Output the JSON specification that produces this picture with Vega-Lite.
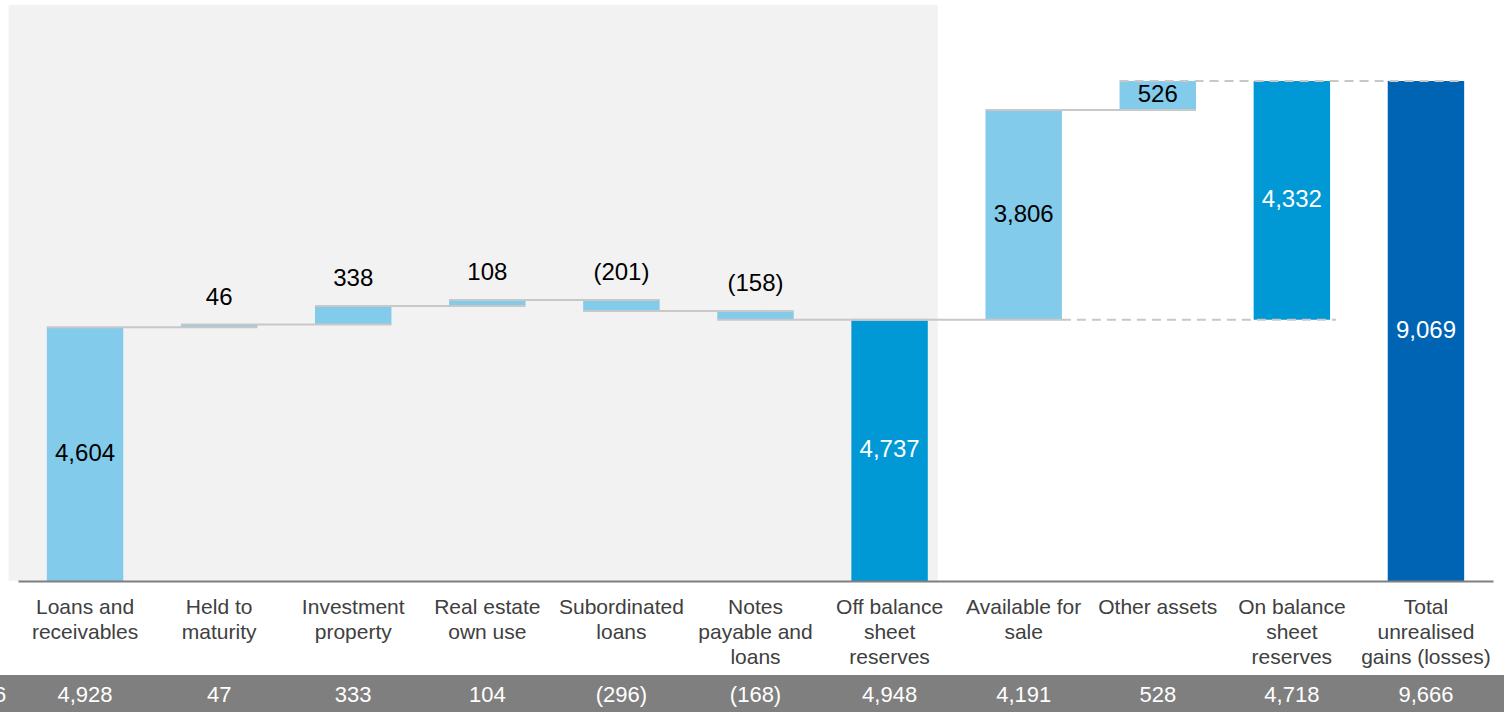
{
  "$schema": "https://vega.github.io/schema/vega-lite/v6.json",
  "width": 1475,
  "height": 576,
  "autosize": {"type": "none"},
  "padding": {"left": 18, "top": 5, "right": 11, "bottom": 131},
  "background": "white",
  "config": {"view": {"stroke": null}, "font": "Liberation Sans"},
  "datasets": {
    "steps": [
      {"category": "Loans and|receivables", "start": 0, "end": 4604, "kind": "change", "labelPos": "inside", "label": "4,604", "prior": "4,928"},
      {"category": "Held to|maturity", "start": 4604, "end": 4650, "kind": "change", "labelPos": "above", "label": "46", "prior": "47"},
      {"category": "Investment|property", "start": 4650, "end": 4988, "kind": "change", "labelPos": "above", "label": "338", "prior": "333"},
      {"category": "Real estate|own use", "start": 4988, "end": 5096, "kind": "change", "labelPos": "above", "label": "108", "prior": "104"},
      {"category": "Subordinated|loans", "start": 5096, "end": 4895, "kind": "change", "labelPos": "above", "label": "(201)", "prior": "(296)"},
      {"category": "Notes|payable and|loans", "start": 4895, "end": 4737, "kind": "change", "labelPos": "above", "label": "(158)", "prior": "(168)"},
      {"category": "Off balance|sheet|reserves", "start": 0, "end": 4737, "kind": "subtotal", "labelPos": "inside", "label": "4,737", "prior": "4,948"},
      {"category": "Available for|sale", "start": 4737, "end": 8543, "kind": "change", "labelPos": "inside", "label": "3,806", "prior": "4,191"},
      {"category": "Other assets", "start": 8543, "end": 9069, "kind": "change", "labelPos": "inside", "label": "526", "prior": "528"},
      {"category": "On balance|sheet|reserves", "start": 4737, "end": 9069, "kind": "subtotal", "labelPos": "inside", "label": "4,332", "prior": "4,718"},
      {"category": "Total|unrealised|gains (losses)", "start": 0, "end": 9069, "kind": "total", "labelPos": "inside", "label": "9,069", "prior": "9,666"}
    ],
    "connectors": [
      {"category": "Loans and|receivables", "to": "Held to|maturity", "level": 4604, "style": "solid"},
      {"category": "Held to|maturity", "to": "Investment|property", "level": 4650, "style": "solid"},
      {"category": "Investment|property", "to": "Real estate|own use", "level": 4988, "style": "solid"},
      {"category": "Real estate|own use", "to": "Subordinated|loans", "level": 5096, "style": "solid"},
      {"category": "Subordinated|loans", "to": "Notes|payable and|loans", "level": 4895, "style": "solid"},
      {"category": "Notes|payable and|loans", "to": "Off balance|sheet|reserves", "level": 4737, "style": "solid"},
      {"category": "Off balance|sheet|reserves", "to": "Available for|sale", "level": 4737, "style": "solid"},
      {"category": "Available for|sale", "to": "Other assets", "level": 8543, "style": "solid"},
      {"category": "Other assets", "to": "Total|unrealised|gains (losses)", "level": 9069, "style": "dashed"}
    ],
    "bracket": [
      {"category": "Available for|sale", "to": "On balance|sheet|reserves", "level": 4737}
    ],
    "panel": [
      {"category": "Loans and|receivables", "to": "Off balance|sheet|reserves", "top": 10447}
    ],
    "band": [
      {"category": "Loans and|receivables", "to": "Total|unrealised|gains (losses)", "year": "2016"}
    ]
  },
  "layer": [
    {
      "data": {"name": "panel"},
      "mark": {"type": "rect", "fill": "#F2F2F2"},
      "encoding": {
        "x": {"field": "category", "type": "nominal", "bandPosition": -0.5,
          "scale": {"domain": ["Loans and|receivables", "Held to|maturity", "Investment|property", "Real estate|own use", "Subordinated|loans", "Notes|payable and|loans", "Off balance|sheet|reserves", "Available for|sale", "Other assets", "On balance|sheet|reserves", "Total|unrealised|gains (losses)"], "paddingInner": 0.43, "paddingOuter": 0.215}},
        "x2": {"field": "to", "bandPosition": 1.13},
        "y": {"field": "top", "type": "quantitative", "scale": {"domain": [0, 10447], "nice": false, "zero": false}, "axis": null},
        "y2": {"datum": 0}
      }
    },
    {
      "data": {"name": "steps"},
      "mark": {"type": "bar"},
      "encoding": {
        "x": {"field": "category", "type": "nominal",
          "scale": {"domain": ["Loans and|receivables", "Held to|maturity", "Investment|property", "Real estate|own use", "Subordinated|loans", "Notes|payable and|loans", "Off balance|sheet|reserves", "Available for|sale", "Other assets", "On balance|sheet|reserves", "Total|unrealised|gains (losses)"], "paddingInner": 0.43, "paddingOuter": 0.215},
          "axis": {"title": null, "ticks": false, "labelAngle": 0, "labelAlign": "center", "labelBaseline": "top", "labelExpr": "split(datum.value, '|')", "labelFont": "Liberation Sans", "labelFontSize": 21, "labelLineHeight": 25, "labelColor": "#404040", "labelPadding": 15, "labelOverlap": false, "labelLimit": 0, "domainColor": "#7F7F7F", "domainWidth": 2, "zindex": 2}},
        "y": {"field": "start", "type": "quantitative", "scale": {"domain": [0, 10447], "nice": false, "zero": false}, "axis": null},
        "y2": {"field": "end"},
        "color": {"field": "kind", "type": "nominal", "scale": {"domain": ["change", "subtotal", "total"], "range": ["#83CBEB", "#0099D5", "#0064B4"]}, "legend": null}
      }
    },
    {
      "data": {"name": "connectors"},
      "mark": {"type": "rule", "color": "#C8C8C8", "strokeWidth": 2},
      "encoding": {
        "x": {"field": "category", "type": "nominal", "bandPosition": 0,
          "scale": {"domain": ["Loans and|receivables", "Held to|maturity", "Investment|property", "Real estate|own use", "Subordinated|loans", "Notes|payable and|loans", "Off balance|sheet|reserves", "Available for|sale", "Other assets", "On balance|sheet|reserves", "Total|unrealised|gains (losses)"], "paddingInner": 0.43, "paddingOuter": 0.215}},
        "x2": {"field": "to", "bandPosition": 1},
        "y": {"field": "level", "type": "quantitative", "scale": {"domain": [0, 10447], "nice": false, "zero": false}, "axis": null},
        "strokeDash": {"field": "style", "type": "nominal", "scale": {"domain": ["solid", "dashed"], "range": [[1, 0], [9, 6]]}, "legend": null}
      }
    },
    {
      "data": {"name": "bracket"},
      "mark": {"type": "rule", "color": "#C8C8C8", "strokeWidth": 2, "strokeDash": [9, 6]},
      "encoding": {
        "x": {"field": "category", "type": "nominal", "bandPosition": 1,
          "scale": {"domain": ["Loans and|receivables", "Held to|maturity", "Investment|property", "Real estate|own use", "Subordinated|loans", "Notes|payable and|loans", "Off balance|sheet|reserves", "Available for|sale", "Other assets", "On balance|sheet|reserves", "Total|unrealised|gains (losses)"], "paddingInner": 0.43, "paddingOuter": 0.215}},
        "x2": {"field": "to", "bandPosition": 1.08},
        "y": {"field": "level", "type": "quantitative", "scale": {"domain": [0, 10447], "nice": false, "zero": false}, "axis": null}
      }
    },
    {
      "data": {"name": "steps"},
      "transform": [
        {"fold": ["start", "end"], "as": ["key", "v"]},
        {"aggregate": [{"op": "mean", "field": "v", "as": "mid"}], "groupby": ["category", "label", "kind", "labelPos"]},
        {"filter": "datum.labelPos == 'inside'"}
      ],
      "mark": {"type": "text", "font": "Liberation Sans", "fontSize": 24, "baseline": "middle", "align": "center"},
      "encoding": {
        "x": {"field": "category", "type": "nominal", "bandPosition": 0.5,
          "scale": {"domain": ["Loans and|receivables", "Held to|maturity", "Investment|property", "Real estate|own use", "Subordinated|loans", "Notes|payable and|loans", "Off balance|sheet|reserves", "Available for|sale", "Other assets", "On balance|sheet|reserves", "Total|unrealised|gains (losses)"], "paddingInner": 0.43, "paddingOuter": 0.215}},
        "y": {"field": "mid", "type": "quantitative", "scale": {"domain": [0, 10447], "nice": false, "zero": false}, "axis": null},
        "text": {"field": "label"},
        "color": {"condition": {"test": "datum.kind != 'change'", "value": "#FFFFFF"}, "value": "#000000"}
      }
    },
    {
      "data": {"name": "steps"},
      "transform": [
        {"fold": ["start", "end"], "as": ["key", "v"]},
        {"aggregate": [{"op": "max", "field": "v", "as": "top"}], "groupby": ["category", "label", "labelPos"]},
        {"filter": "datum.labelPos == 'above'"}
      ],
      "mark": {"type": "text", "font": "Liberation Sans", "fontSize": 24, "baseline": "middle", "align": "center", "dy": -27, "color": "#000000"},
      "encoding": {
        "x": {"field": "category", "type": "nominal", "bandPosition": 0.5,
          "scale": {"domain": ["Loans and|receivables", "Held to|maturity", "Investment|property", "Real estate|own use", "Subordinated|loans", "Notes|payable and|loans", "Off balance|sheet|reserves", "Available for|sale", "Other assets", "On balance|sheet|reserves", "Total|unrealised|gains (losses)"], "paddingInner": 0.43, "paddingOuter": 0.215}},
        "y": {"field": "top", "type": "quantitative", "scale": {"domain": [0, 10447], "nice": false, "zero": false}, "axis": null},
        "text": {"field": "label"}
      }
    },
    {
      "data": {"name": "band"},
      "mark": {"type": "rect", "fill": "#7F7F7F"},
      "encoding": {
        "x": {"field": "category", "type": "nominal", "bandPosition": -1,
          "scale": {"domain": ["Loans and|receivables", "Held to|maturity", "Investment|property", "Real estate|own use", "Subordinated|loans", "Notes|payable and|loans", "Off balance|sheet|reserves", "Available for|sale", "Other assets", "On balance|sheet|reserves", "Total|unrealised|gains (losses)"], "paddingInner": 0.43, "paddingOuter": 0.215}},
        "x2": {"field": "to", "bandPosition": 2},
        "y": {"datum": -1705, "type": "quantitative", "scale": {"domain": [0, 10447], "nice": false, "zero": false}, "axis": null},
        "y2": {"datum": -2500}
      }
    },
    {
      "data": {"name": "steps"},
      "mark": {"type": "text", "font": "Liberation Sans", "fontSize": 22, "baseline": "middle", "align": "center", "color": "#FFFFFF"},
      "encoding": {
        "x": {"field": "category", "type": "nominal", "bandPosition": 0.5,
          "scale": {"domain": ["Loans and|receivables", "Held to|maturity", "Investment|property", "Real estate|own use", "Subordinated|loans", "Notes|payable and|loans", "Off balance|sheet|reserves", "Available for|sale", "Other assets", "On balance|sheet|reserves", "Total|unrealised|gains (losses)"], "paddingInner": 0.43, "paddingOuter": 0.215}},
        "y": {"datum": -2075, "type": "quantitative", "scale": {"domain": [0, 10447], "nice": false, "zero": false}, "axis": null},
        "text": {"field": "prior"}
      }
    },
    {
      "data": {"name": "band"},
      "mark": {"type": "text", "font": "Liberation Sans", "fontSize": 22, "baseline": "middle", "align": "right", "color": "#FFFFFF"},
      "encoding": {
        "x": {"field": "category", "type": "nominal", "bandPosition": -0.53,
          "scale": {"domain": ["Loans and|receivables", "Held to|maturity", "Investment|property", "Real estate|own use", "Subordinated|loans", "Notes|payable and|loans", "Off balance|sheet|reserves", "Available for|sale", "Other assets", "On balance|sheet|reserves", "Total|unrealised|gains (losses)"], "paddingInner": 0.43, "paddingOuter": 0.215}},
        "y": {"datum": -2075, "type": "quantitative", "scale": {"domain": [0, 10447], "nice": false, "zero": false}, "axis": null},
        "text": {"field": "year"}
      }
    }
  ]
}
